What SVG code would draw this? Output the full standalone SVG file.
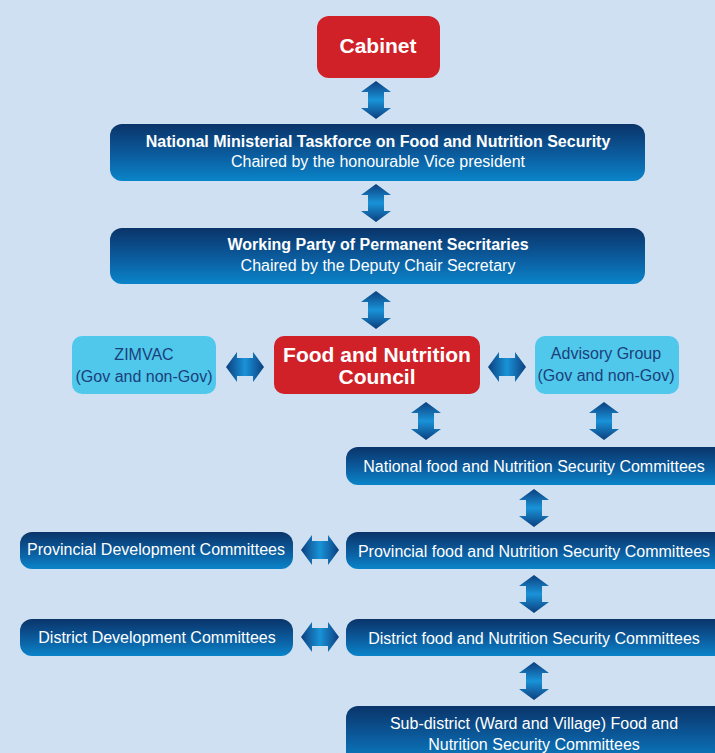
<svg xmlns="http://www.w3.org/2000/svg" width="715" height="753" viewBox="0 0 715 753">
<defs>
<linearGradient id="gBox" x1="0" y1="0" x2="0" y2="1">
<stop offset="0" stop-color="#0a3469"/>
<stop offset="0.55" stop-color="#0b5d9f"/>
<stop offset="1" stop-color="#0a84c9"/>
</linearGradient>
<linearGradient id="gArr" x1="0" y1="0" x2="0" y2="1">
<stop offset="0" stop-color="#0b3f7e"/>
<stop offset="0.5" stop-color="#1a93d8"/>
<stop offset="1" stop-color="#0b3f7e"/>
</linearGradient>
<linearGradient id="gArrH" x1="0" y1="0" x2="1" y2="0">
<stop offset="0" stop-color="#0b3f7e"/>
<stop offset="0.5" stop-color="#1a93d8"/>
<stop offset="1" stop-color="#0b3f7e"/>
</linearGradient>
<path id="arrV" d="M0,-19 L15,-8 L8,-8 L8,8 L15,8 L0,19 L-15,8 L-8,8 L-8,-8 L-15,-8 Z" fill="url(#gArr)"/>
<path id="arrH" d="M-19,0 L-8,-15 L-8,-9 L8,-9 L8,-15 L19,0 L8,15 L8,9 L-8,9 L-8,15 Z" fill="url(#gArrH)"/>
</defs>
<style>
.red{fill:#d02128}
.dark{fill:url(#gBox)}
.light{fill:#4fc8ec}
text{font-family:"Liberation Sans",Arial,sans-serif;text-anchor:middle}
.tw{fill:#ffffff;font-size:16px}
.tb{fill:#ffffff;font-size:16px;font-weight:bold}
.tr{fill:#ffffff;font-size:21px;font-weight:bold}
.tn{fill:#1b3f7a;font-size:16px}
</style>
<rect x="0" y="0" width="715" height="753" fill="#cfe0f2"/>

<g id="connectors">
<use href="#arrV" x="376" y="100"/>
<use href="#arrV" x="376" y="203"/>
<use href="#arrV" x="376" y="310"/>
<use href="#arrH" x="245" y="367"/>
<use href="#arrH" x="507" y="367"/>
<use href="#arrV" x="426" y="421"/>
<use href="#arrV" x="604" y="421"/>
<use href="#arrV" x="534" y="508"/>
<use href="#arrH" x="320" y="550"/>
<use href="#arrV" x="534" y="594"/>
<use href="#arrH" x="320" y="637"/>
<use href="#arrV" x="534" y="681"/>
</g>

<g id="cabinet">
<rect class="red" x="317" y="16" width="123" height="62" rx="12"/>
<text class="tr" x="378" y="53">Cabinet</text>
</g>

<g id="taskforce">
<rect class="dark" x="110" y="124" width="535" height="57" rx="12"/>
<text class="tb" x="378" y="147">National Ministerial Taskforce on Food and Nutrition Security</text>
<text class="tw" x="378" y="167">Chaired by the honourable Vice president</text>
</g>

<g id="working-party">
<rect class="dark" x="110" y="228" width="535" height="56" rx="12"/>
<text class="tb" x="378" y="250">Working Party of Permanent Secritaries</text>
<text class="tw" x="378" y="271">Chaired by the Deputy Chair Secretary</text>
</g>

<g id="zimvac">
<rect class="light" x="72" y="336" width="144" height="58" rx="10"/>
<text class="tn" x="144" y="360">ZIMVAC</text>
<text class="tn" x="144" y="382">(Gov and non-Gov)</text>
</g>

<g id="council">
<rect class="red" x="274" y="336" width="206" height="58" rx="10"/>
<text class="tr" x="377" y="362">Food and Nutrition</text>
<text class="tr" x="377" y="384">Council</text>
</g>

<g id="advisory">
<rect class="light" x="535" y="336" width="144" height="58" rx="10"/>
<text class="tn" x="606" y="359">Advisory Group</text>
<text class="tn" x="606" y="381">(Gov and non-Gov)</text>
</g>

<g id="national-committees">
<rect class="dark" x="346" y="447" width="380" height="38" rx="12"/>
<text class="tw" x="534" y="472">National food and Nutrition Security Committees</text>
</g>

<g id="provincial-committees">
<rect class="dark" x="346" y="532" width="380" height="37" rx="12"/>
<text class="tw" x="534" y="557">Provincial food and Nutrition Security Committees</text>
</g>

<g id="provincial-development">
<rect class="dark" x="20" y="532" width="273" height="37" rx="12"/>
<text class="tw" x="156" y="555">Provincial Development Committees</text>
</g>

<g id="district-development">
<rect class="dark" x="20" y="619" width="273" height="37" rx="12"/>
<text class="tw" x="157" y="643">District Development Committees</text>
</g>

<g id="district-committees">
<rect class="dark" x="346" y="619" width="380" height="37" rx="12"/>
<text class="tw" x="534" y="644">District food and Nutrition Security Committees</text>
</g>

<g id="subdistrict-committees">
<rect class="dark" x="346" y="706" width="380" height="60" rx="12"/>
<text class="tw" x="534" y="729">Sub-district (Ward and Village) Food and</text>
<text class="tw" x="534" y="750">Nutrition Security Committees</text>
</g>
</svg>
